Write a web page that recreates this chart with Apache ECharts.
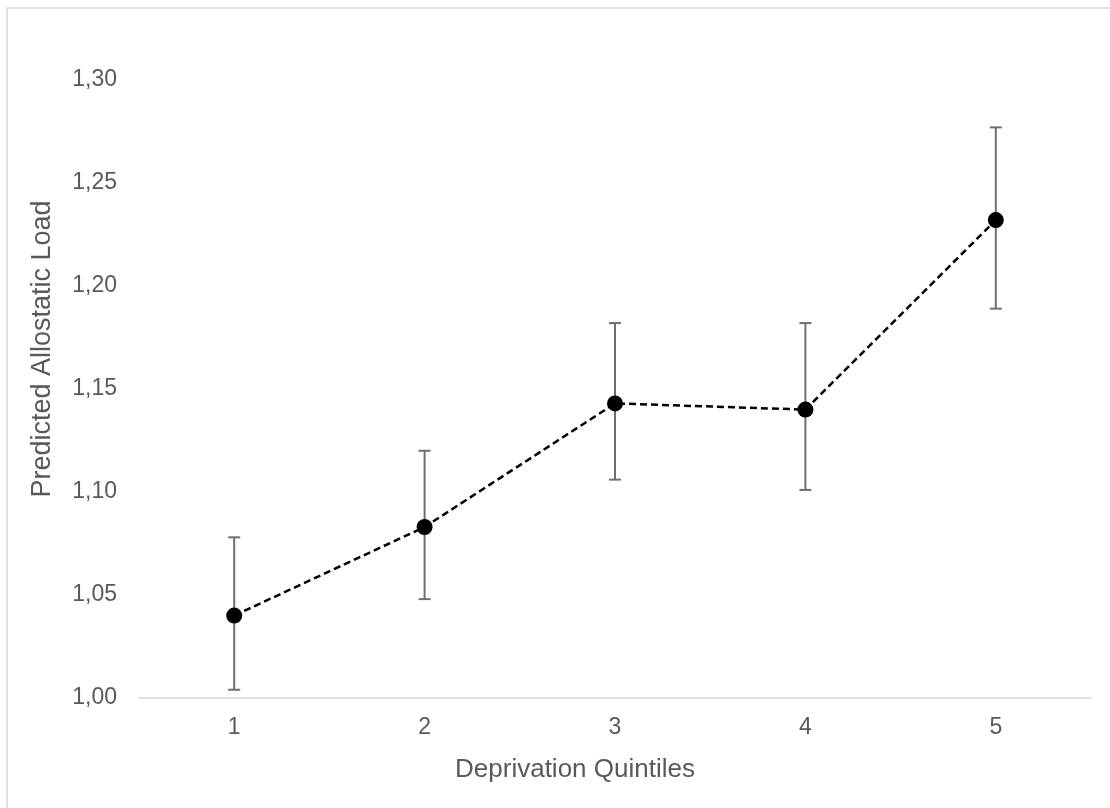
<!DOCTYPE html>
<html>
<head>
<meta charset="utf-8">
<script src="https://cdn.jsdelivr.net/npm/echarts@6/dist/echarts.min.js"></script>
<style>
  html, body { margin: 0; padding: 0; background: #fff; }
  #chart { width: 1110px; height: 808px; }
</style>
</head>
<body>
<div id="chart"></div>
<script>
// data
const quintiles = ['1', '2', '3', '4', '5'];
const predicted = [1.040, 1.083, 1.143, 1.140, 1.232];
const upper = [1.078, 1.120, 1.182, 1.182, 1.277];
const lower = [1.004, 1.048, 1.106, 1.101, 1.189];
const yTicks = [1.00, 1.05, 1.10, 1.15, 1.20, 1.25, 1.30];

const textColor = '#595959';
const font = 'Liberation Sans, Arial, sans-serif';

const errData = quintiles.map((q, i) => [i, lower[i], upper[i]]);

const myChart = echarts.init(document.getElementById('chart'));

myChart.setOption({
  animation: false,
  backgroundColor: '#fff',
  grid: { left: 139, right: 19, top: 80, bottom: 110 },
  graphic: [
    {
      type: 'rect',
      shape: { x: 7, y: 8, width: 1200, height: 900 },
      style: { fill: 'none', stroke: '#d9d9d9', lineWidth: 1.5 },
      silent: true,
    },
    {
      type: 'text',
      x: 575, y: 770,
      style: {
        text: 'Deprivation Quintiles', fill: textColor, font: '26px ' + font,
        align: 'center', verticalAlign: 'middle',
      },
    },
    {
      type: 'text',
      x: 43, y: 349,
      rotation: Math.PI / 2,
      style: {
        text: 'Predicted Allostatic Load', fill: textColor, font: '27px ' + font,
        align: 'center', verticalAlign: 'middle',
      },
    },
  ],
  xAxis: {
    type: 'category',
    data: quintiles,
    boundaryGap: true,
    axisLine: { lineStyle: { color: '#d9d9d9', width: 1.5 } },
    axisTick: { show: false },
    axisLabel: { color: textColor, fontSize: 23, fontFamily: font, margin: 18 },
  },
  yAxis: {
    type: 'value',
    min: yTicks[0],
    max: yTicks[yTicks.length - 1],
    interval: 0.05,
    splitLine: { show: false },
    axisLine: { show: false },
    axisTick: { show: false },
    axisLabel: {
      color: textColor, fontSize: 23, fontFamily: font, margin: 22,
      formatter: (v) => v.toFixed(2).replace('.', ','),
    },
  },
  series: [
    {
      type: 'custom',
      data: errData,
      z: 1,
      renderItem: (params, api) => {
        const x = api.value(0);
        const lo = api.coord([x, api.value(1)]);
        const hi = api.coord([x, api.value(2)]);
        const half = 6;
        const style = { stroke: '#6f6f6f', lineWidth: 2 };
        return {
          type: 'group',
          children: [
            { type: 'line', shape: { x1: hi[0], y1: hi[1], x2: lo[0], y2: lo[1] }, style },
            { type: 'line', shape: { x1: hi[0] - half, y1: hi[1], x2: hi[0] + half, y2: hi[1] }, style },
            { type: 'line', shape: { x1: lo[0] - half, y1: lo[1], x2: lo[0] + half, y2: lo[1] }, style },
          ],
        };
      },
    },
    {
      type: 'line',
      data: predicted,
      z: 2,
      symbol: 'circle',
      symbolSize: 16,
      itemStyle: { color: '#000' },
      lineStyle: { color: '#000', width: 2.5, type: [7, 4] },
    },
  ],
});
</script>
</body>
</html>
